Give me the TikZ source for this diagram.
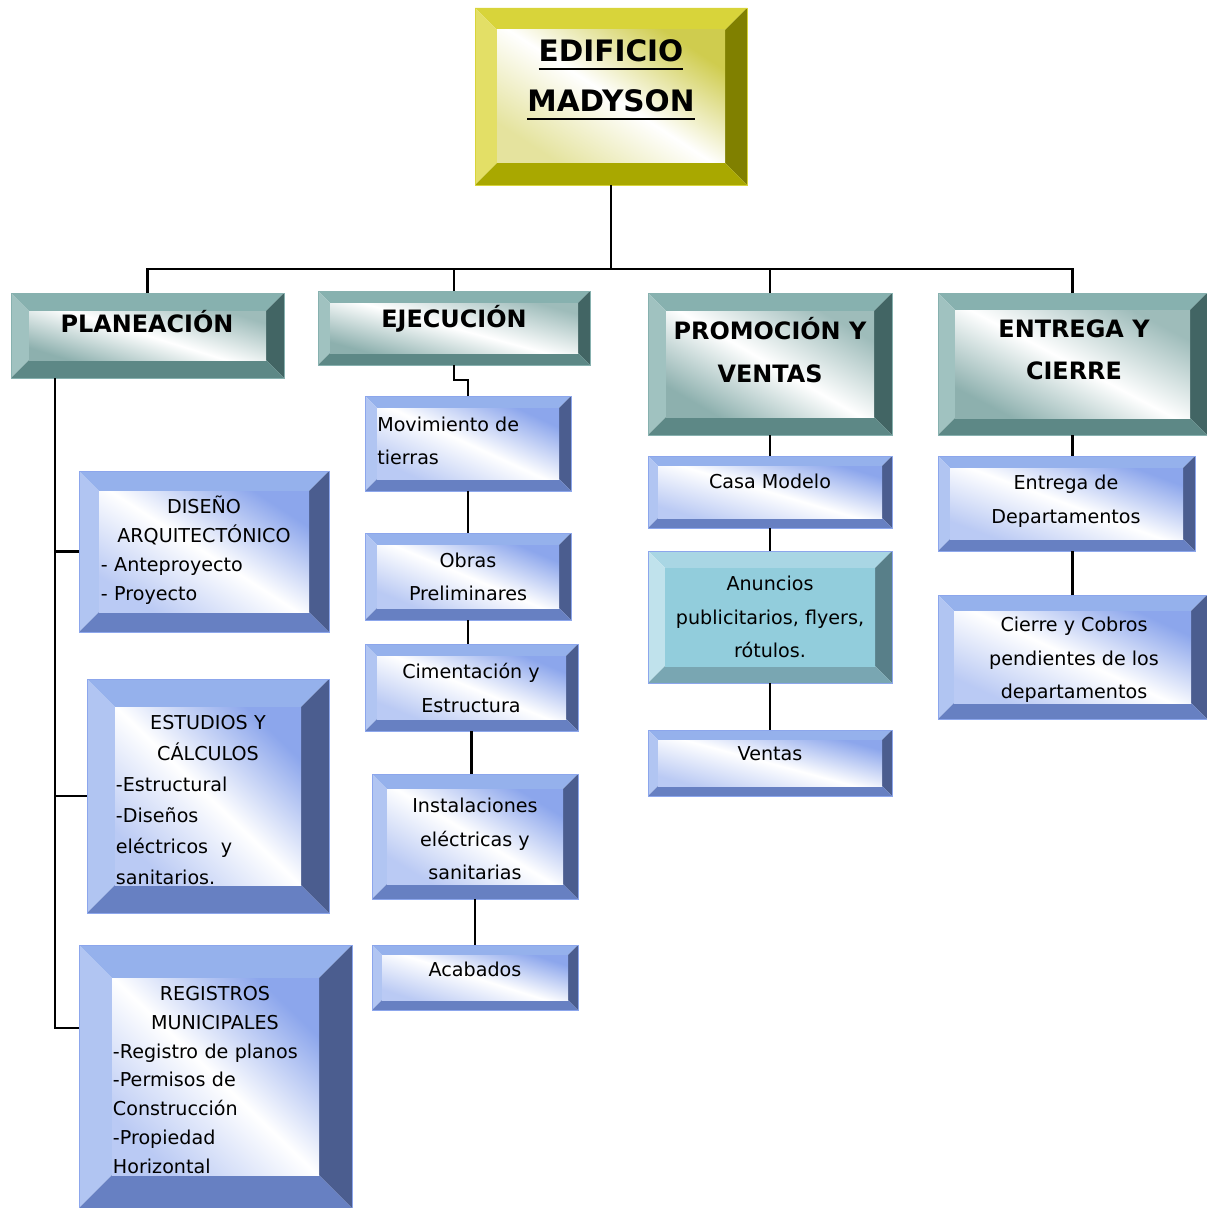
\documentclass[tikz,border=0pt]{standalone}
\usepackage{fontspec}
\setmainfont{DejaVu Sans}

% bevel colours (top, left, right, bottom, face)
\definecolor{goldT}{HTML}{D8D43A}
\definecolor{goldL}{HTML}{E3DF66}
\definecolor{goldR}{HTML}{808000}
\definecolor{goldB}{HTML}{A9A800}
\definecolor{goldF}{HTML}{CFCC4E}
\definecolor{tealT}{HTML}{87B1AF}
\definecolor{tealL}{HTML}{A0C2C0}
\definecolor{tealR}{HTML}{426564}
\definecolor{tealB}{HTML}{5D8886}
\definecolor{tealF}{HTML}{8DB0AE}
\definecolor{bluT}{HTML}{95B1EC}
\definecolor{bluL}{HTML}{B1C5F2}
\definecolor{bluR}{HTML}{4B5D8F}
\definecolor{bluB}{HTML}{6780C2}
\definecolor{bluF}{HTML}{8CA6EC}
\definecolor{aquT}{HTML}{A9D6E4}
\definecolor{aquL}{HTML}{C0E2EC}
\definecolor{aquR}{HTML}{587F89}
\definecolor{aquB}{HTML}{79A6B2}
\definecolor{aquF}{HTML}{92CDDC}

\newcommand\thickul[1]{\setbox0\hbox{#1}\rlap{\rule[-6pt]{\wd0}{1.8pt}}\box0}
\newcommand\lft[1]{\makebox[\hsize][l]{#1}}
% box from its corners (px): [options]{name}{x1}{y1}{x2}{y2}
\newcommand\bvbox[6][]{%
  \pgfmathsetmacro\bvang{-atan2(#6-#4,#5-#3)}%
  \node[bevelbox,#1,minimum width={(#5-#3)*0.025cm},minimum height={(#6-#4)*0.025cm}]
    (#2) at ({(#3+#5)/2},{(#4+#6)/2}) {};}

\begin{document}
\begin{tikzpicture}[
  x=0.025cm, y=-0.025cm,
  bv top/.store in=\bvtop, bv left/.store in=\bvleft,
  bv right/.store in=\bvright, bv bottom/.store in=\bvbot,
  bv fa/.store in=\bvfa, bv fm/.store in=\bvfm, bv fb/.store in=\bvfb,
  bv depth/.code={\pgfmathsetlengthmacro\bvd{#1*0.025cm}},
  bevelbox/.style={rectangle, inner sep=0pt, outer sep=0pt, line width=0.6pt,
    path picture={
      \coordinate (bvNW) at (path picture bounding box.north west);
      \coordinate (bvNE) at (path picture bounding box.north east);
      \coordinate (bvSW) at (path picture bounding box.south west);
      \coordinate (bvSE) at (path picture bounding box.south east);
      \coordinate (bvnw) at ([xshift=\bvd,yshift=-\bvd]bvNW);
      \coordinate (bvne) at ([xshift=-\bvd,yshift=-\bvd]bvNE);
      \coordinate (bvsw) at ([xshift=\bvd,yshift=\bvd]bvSW);
      \coordinate (bvse) at ([xshift=-\bvd,yshift=\bvd]bvSE);
      \fill[\bvtop]   (bvNW) -- (bvNE) -- (bvne) -- (bvnw) -- cycle;
      \fill[\bvleft]  (bvNW) -- (bvnw) -- (bvsw) -- (bvSW) -- cycle;
      \fill[\bvright] (bvNE) -- (bvSE) -- (bvse) -- (bvne) -- cycle;
      \fill[\bvbot]   (bvSW) -- (bvsw) -- (bvse) -- (bvSE) -- cycle;
      \shade[top color=\bvfa, bottom color=\bvfb, middle color=\bvfm,
             shading angle=\bvang] (bvnw) rectangle (bvse);
    }},
  bvgold/.style={bv top=goldT, bv left=goldL, bv right=goldR, bv bottom=goldB,
                 bv fa=goldF, bv fm=white, bv fb=goldF!55, draw=goldT},
  bvteal/.style={bv top=tealT, bv left=tealL, bv right=tealR, bv bottom=tealB,
                 bv fa=tealF!85, bv fm=white, bv fb=tealF, draw=tealT},
  bvblue/.style={bv top=bluT, bv left=bluL, bv right=bluR, bv bottom=bluB,
                 bv fa=bluF, bv fm=white, bv fb=bluF!60, draw=bluF},
  bvaqua/.style={bv top=aquT, bv left=aquL, bv right=aquR, bv bottom=aquB,
                 bv fa=aquF, bv fm=aquF, bv fb=aquF, draw=bluF},
  txt/.style={inner sep=0pt, align=center, font=\fontsize{13.6}{23.8}\selectfont},
  head/.style={inner sep=0pt, align=center, font=\bfseries\fontsize{17}{30}\selectfont},
  conn/.style={line width=1.5pt, black}
]
\useasboundingbox (0,0) rectangle (1207,1208);

% main boxes
\bvbox[bvgold, bv depth=22]{title}{475}{8}{747}{185}
\bvbox[bvteal, bv depth=18]{plan}{11}{293}{284}{378}
\bvbox[bvteal, bv depth=12]{ejec}{318}{291}{590}{365}
\bvbox[bvteal, bv depth=18]{prom}{648}{293}{892}{435}
\bvbox[bvteal, bv depth=17]{entr}{938}{293}{1207}{435}

% planeacion
\bvbox[bvblue, bv depth=20]{dis}{79}{471}{329}{632}
\bvbox[bvblue, bv depth=28]{est}{87}{679}{329}{913}
\bvbox[bvblue, bv depth=33]{reg}{79}{945}{352}{1208}

% ejecucion
\bvbox[bvblue, bv depth=12]{mov}{365}{396}{571}{491}
\bvbox[bvblue, bv depth=12]{obr}{365}{533}{571}{620}
\bvbox[bvblue, bv depth=12]{cim}{365}{644}{578}{731}
\bvbox[bvblue, bv depth=15]{ins}{372}{774}{578}{899}
\bvbox[bvblue, bv depth=10]{aca}{372}{945}{578}{1010}

% promocion y ventas
\bvbox[bvblue, bv depth=10]{casa}{648}{456}{892}{528}
\bvbox[bvaqua, bv depth=17]{anun}{648}{551}{892}{683}
\bvbox[bvblue, bv depth=10]{vent}{648}{730}{892}{796}

% entrega y cierre
\bvbox[bvblue, bv depth=12]{edep}{938}{456}{1195}{551}
\bvbox[bvblue, bv depth=16]{cier}{938}{595}{1207}{719}

% texts
\node[head, font=\bfseries\fontsize{21}{35.6}\selectfont] (title-t) at (611,80)
  {\thickul{EDIFICIO}\\\thickul{MADYSON}};
\node[head] (plan-t) at (147,322) {PLANEACIÓN};
\node[head] (ejec-t) at (454,319) {EJECUCIÓN};
\node[head] (prom-t) at (770,350) {PROMOCIÓN Y\\VENTAS};
\node[head] (entr-t) at (1074,350) {ENTREGA Y\\CIERRE};

\node[txt, text width=5.15cm, font=\fontsize{13.6}{20.6}\selectfont] (dis-t) at (204,550)
  {DISEÑO\\ARQUITECTÓNICO\\\lft{- Anteproyecto}\\\lft{- Proyecto}};
\node[txt, text width=4.6cm, font=\fontsize{13.6}{22}\selectfont] (est-t) at (208,800)
  {ESTUDIOS Y\\CÁLCULOS\\\lft{-Estructural}\\\lft{-Diseños}\\\lft{eléctricos~ y}\\\lft{sanitarios.}};
\node[txt, text width=5.1cm, font=\fontsize{13.6}{20.6}\selectfont] (reg-t) at (215,1080)
  {REGISTROS\\MUNICIPALES\\\lft{-Registro de planos}\\\lft{-Permisos de}\\\lft{Construcción}\\\lft{-Propiedad}\\\lft{Horizontal}};

\node[txt, align=left, anchor=west] (mov-t) at (377,441) {Movimiento de\\tierras};
\node[txt] (obr-t) at (468,577) {Obras\\Preliminares};
\node[txt] (cim-t) at (471,688) {Cimentación y\\Estructura};
\node[txt] (ins-t) at (475,839) {Instalaciones\\eléctricas y\\sanitarias};
\node[txt] (aca-t) at (475,969) {Acabados};

\node[txt] (casa-t) at (770,481) {Casa Modelo};
\node[txt] (anun-t) at (770,617) {Anuncios\\publicitarios, flyers,\\rótulos.};
\node[txt] (vent-t) at (770,754) {Ventas};

\node[txt] (edep-t) at (1066,501) {Entrega de\\Departamentos};
\node[txt] (cier-t) at (1074,660) {Cierre y Cobros\\pendientes de los\\departamentos};

% connectors
\coordinate (bus) at (611,269);
\coordinate (spine) at (55,0);
\draw[conn] (title) -- (bus);
\draw[conn] (plan.north) |- (bus);
\draw[conn] (ejec.north) |- (bus);
\draw[conn] (prom.north) |- (bus);
\draw[conn] (entr.north) |- (bus);

\draw[conn] (plan.south -| spine) |- (dis.west);
\draw[conn] (plan.south -| spine) |- (est.west);
\draw[conn] (plan.south -| spine) |- ([yshift=1.21cm]reg.west);

\draw[conn] (ejec.south) -- ++(0,15) -| (mov.north);
\draw[conn] (mov) -- (obr);
\draw[conn] (obr.south) -- (obr.south |- cim.north);
\draw[conn] (cim.south) -- (cim.south |- ins.north);
\draw[conn] (ins) -- (aca);

\draw[conn] (prom) -- (casa);
\draw[conn] (casa) -- (anun);
\draw[conn] (anun) -- (vent);

\draw[conn] (entr.south) -- (entr.south |- edep.north);
\draw[conn] (cier.north) -- (cier.north |- edep.south);
\end{tikzpicture}
\end{document}
